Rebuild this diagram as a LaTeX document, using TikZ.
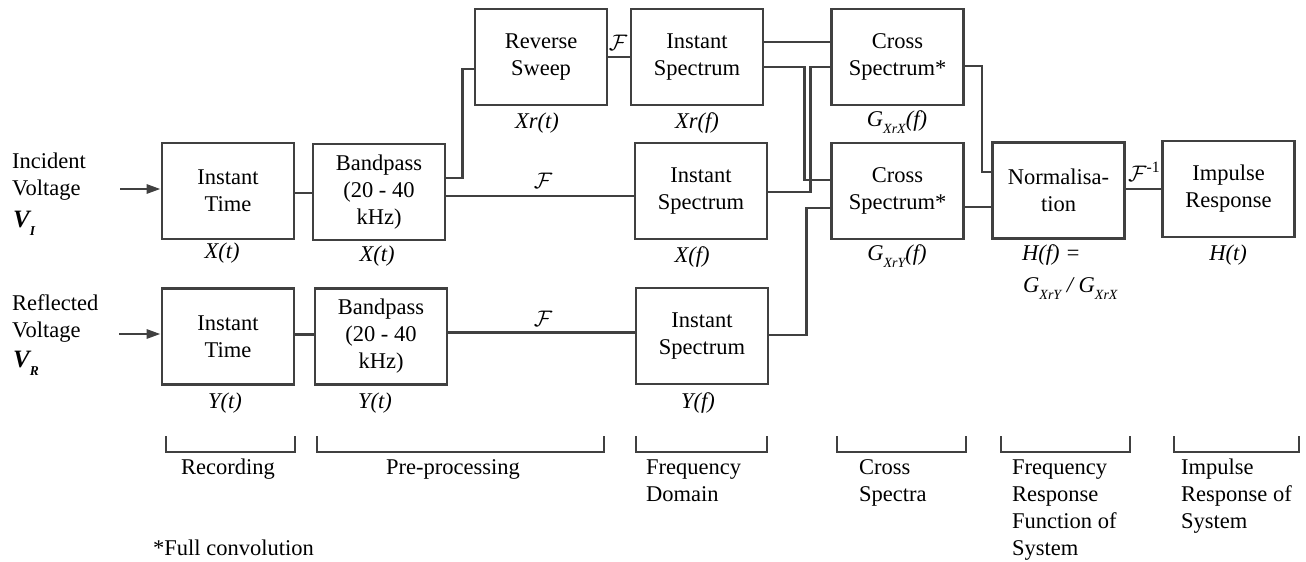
\RequirePackage{fix-cm}
\documentclass[tikz,border=0pt]{standalone}
\usepackage{fontspec}
\setmainfont{Liberation Serif}
\usetikzlibrary{arrows.meta,calc}
\definecolor{ln}{HTML}{404040}
\newcommand{\mainsz}{\fontsize{22.5}{27}\selectfont}
\newcommand{\lowsub}[1]{\raisebox{-7.5pt}{\fontsize{14}{14}\selectfont\itshape #1}}
\newcommand{\boldsub}[1]{\raisebox{-8pt}{\fontsize{13.5}{13.5}\selectfont\bfseries\itshape #1}}
\tikzset{
  stage/.style={draw=ln, line width=2.8pt, minimum width=132pt, minimum height=96pt,
    inner sep=0pt, align=center, font=\mainsz},
  wire/.style={draw=ln, line width=2.8pt},
  feed/.style={wire, -{Triangle[length=14pt,width=9pt]}},
  sig/.style={inner sep=0pt, anchor=base, font=\mainsz\itshape},
  txt/.style={inner sep=0pt, font=\mainsz, align=left},
  ftr/.style={inner sep=0pt, anchor=base, font=\mainsz},
}
\begin{document}
\begin{tikzpicture}[x=1pt, y=-1pt]
\useasboundingbox (0,0) rectangle (1306,562);

% processing stages
\node[stage] (it1)  at (228,191)    {Instant\\Time};
\node[stage] (bp1)  at (379,192)    {Bandpass\\(20 - 40\\kHz)};
\node[stage] (rs)   at (541,57)     {Reverse\\Sweep};
\node[stage] (isxr) at (697,57)     {Instant\\Spectrum};
\node[stage] (isx)  at (701,191)    {Instant\\Spectrum};
\node[stage] (csa)  at (897.5,57)   {Cross\\Spectrum*};
\node[stage] (csb)  at (897.5,191)  {Cross\\Spectrum*};
\node[stage] (nrm)  at (1058.5,190.5) {Normalisa-\\tion};
\node[stage] (imp)  at (1228.5,189) {Impulse\\Response};
\node[stage] (it2)  at (228,336.5)  {Instant\\Time};
\node[stage] (bp2)  at (381,336.5)  {Bandpass\\(20 - 40\\kHz)};
\node[stage] (isy)  at (702,336)    {Instant\\Spectrum};

% inputs (multi-line nodes sit on the baseline of their last line)
\node[txt, anchor=base west] (lin) at (12,195) {Incident\\Voltage};
\node[inner sep=0pt, anchor=base west, font=\fontsize{25}{27}\selectfont\bfseries\itshape] (vi) at (13,227) {V\boldsub{I}};
\node[txt, anchor=base west] (lrf) at (12,337) {Reflected\\Voltage};
\node[inner sep=0pt, anchor=base west, font=\fontsize{25}{27}\selectfont\bfseries\itshape] (vr) at (13,367) {V\boldsub{R}};
\coordinate (inI) at (120,189);
\coordinate (inR) at (119,334);
\draw[feed] (inI) -- (inI -| it1.west);
\draw[feed] (inR) -- (inR -| it2.west);

% incident path
\draw[wire] ([yshift=-2pt]it1.east) -- ([yshift=-2pt]it1.east -| bp1.west);
\draw[wire] ([yshift=14pt]bp1.east) -- ++(16,0) |- ([yshift=-12pt]rs.west);
\draw[wire] ([yshift=-4pt]bp1.east) -- ([yshift=-4pt]bp1.east -| isx.west);
\draw[wire] (rs.east) -- (rs.east -| isxr.west);
\draw[wire] ([yshift=15pt]isxr.east) -- ([yshift=15pt]isxr.east -| csa.west);
\draw[wire] ([yshift=-10pt]isxr.east) -- ++(40,0) |- ([yshift=11pt]csb.west);
\draw[wire] ([yshift=-1pt]isx.east) -- ++(42,0) |- ([yshift=-10pt]csa.west);

% reflected path
\draw[wire] ([yshift=2pt]it2.east) -- ([yshift=2pt]it2.east -| bp2.west);
\draw[wire] ([yshift=4pt]bp2.east) -- ([yshift=4pt]bp2.east -| isy.west);
\draw[wire] ([yshift=1pt]isy.east) -- ++(37,0) |- ([yshift=-17pt]csb.west);

% cross spectra to output
\draw[wire] ([yshift=-9pt]csa.east) -- ++(17,0) |- ([yshift=18.5pt]nrm.west);
\draw[wire] ([yshift=-16pt]csb.east) -- ([yshift=-16pt]csb.east -| nrm.west);
\draw[wire] ([yshift=1.5pt]nrm.east) -- ([yshift=1.5pt]nrm.east -| imp.west);

% transform marks
\node[ftr] (f1) at (543,188) {$\mathcal{F}$};
\node[ftr] (f2) at (618,50)  {$\mathcal{F}$};
\node[ftr] (f3) at (543,326) {$\mathcal{F}$};
\node[inner sep=0pt, anchor=base west, font=\mainsz] (f4) at (1128,181) {$\mathcal{F}$\textsuperscript{-1}};

% signal names
\node[sig] (s1) at (222,258) {X(t)};
\node[sig] (s2) at (377,261) {X(t)};
\node[sig] (s3) at (537,128) {Xr(t)};
\node[sig] (s4) at (697,128) {Xr(f)};
\node[sig] (s5) at (692,262) {X(f)};
\node[sig] (s6) at (897,126) {G\lowsub{XrX}(f)};
\node[sig] (s7) at (897,260) {G\lowsub{XrY}(f)};
\node[sig, anchor=base west] (s8) at (1022,260) {H(f) =};
\node[sig, anchor=base west] (s9) at (1023,292) {G\lowsub{XrY} / G\lowsub{XrX}};
\node[sig] (s10) at (1228,260) {H(t)};
\node[sig] (s11) at (225,408) {Y(t)};
\node[sig] (s12) at (375,408) {Y(t)};
\node[sig] (s13) at (698,408) {Y(f)};

% stage groups
\foreach \a/\b in {166/295, 317/604, 636/767, 837/966, 1001/1130, 1174/1299}
  \draw[wire] (\a,436) |- (\b,452) -- (\b,436);
\node[ftr] (g1) at (228,474) {Recording};
\node[ftr] (g2) at (453,474) {Pre-processing};
\node[txt, anchor=base west] (g3) at (646,501) {Frequency\\Domain};
\node[txt, anchor=base west] (g4) at (859,501) {Cross\\Spectra};
\node[txt, anchor=base west] (g5) at (1012,555) {Frequency\\Response\\Function of\\System};
\node[txt, anchor=base west] (g6) at (1181,528) {Impulse\\Response of\\System};

\node[inner sep=0pt, anchor=base west, font=\mainsz] (note) at (153,555) {*Full convolution};
\end{tikzpicture}
\end{document}
